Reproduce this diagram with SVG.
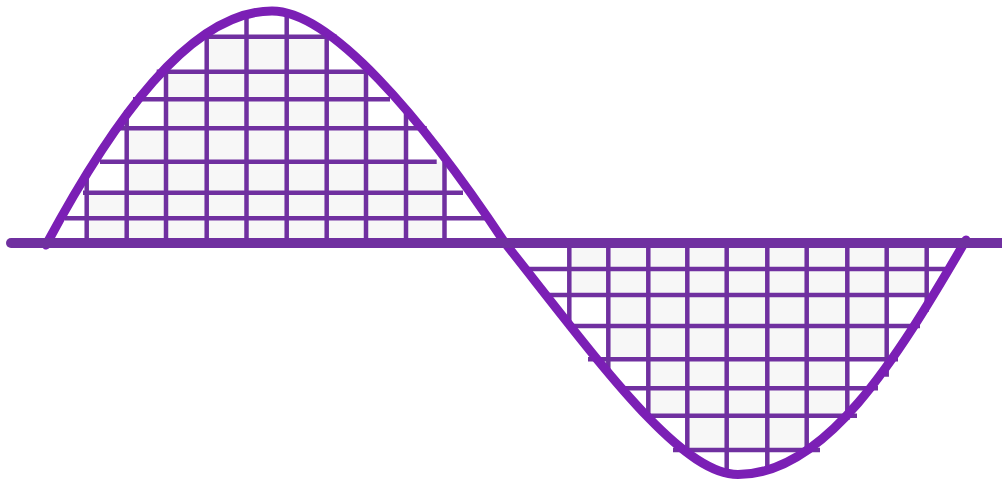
<svg xmlns="http://www.w3.org/2000/svg" width="1002" height="483" viewBox="0 0 1002 483">
  <style>
    .cell { fill: #f7f7f7; }
    .grid line { stroke: #7030a0; stroke-width: 4.5; }
    .axis { stroke: #7030a0; stroke-width: 10; stroke-linecap: round; }
    .wave { fill: none; stroke: #7b1fb5; stroke-width: 9; stroke-linecap: round; }
  </style>
  <rect width="1002" height="483" fill="#ffffff"/>
  <g id="fill-upper">
    <rect class="cell" x="86.7" y="192.7" width="357.8" height="50.3"/>
    <rect class="cell" x="126.7" y="161.7" width="317.8" height="31"/>
    <rect class="cell" x="126.7" y="128.3" width="279.3" height="33.4"/>
    <rect class="cell" x="166" y="71.7" width="200" height="56.6"/>
    <rect class="cell" x="206.7" y="36.7" width="120" height="35"/>
  </g>
  <g id="fill-lower">
    <rect class="cell" x="569.3" y="243" width="357.4" height="52"/>
    <rect class="cell" x="608.3" y="295" width="278.4" height="64.3"/>
    <rect class="cell" x="648.3" y="359.3" width="199" height="56.4"/>
    <rect class="cell" x="687.3" y="415.7" width="119.4" height="34.3"/>
  </g>
  <g id="grid-upper" class="grid">
    <line x1="86.7" y1="175" x2="86.7" y2="243"/>
    <line x1="126.7" y1="110" x2="126.7" y2="243"/>
    <line x1="166" y1="66.7" x2="166" y2="243"/>
    <line x1="206.7" y1="31.7" x2="206.7" y2="243"/>
    <line x1="246.5" y1="15" x2="246.5" y2="243"/>
    <line x1="286.7" y1="15" x2="286.7" y2="243"/>
    <line x1="326.7" y1="31.7" x2="326.7" y2="243"/>
    <line x1="366" y1="66.7" x2="366" y2="243"/>
    <line x1="406" y1="110" x2="406" y2="243"/>
    <line x1="444.5" y1="161.7" x2="444.5" y2="243"/>
    <line x1="200" y1="36.7" x2="336.7" y2="36.7"/>
    <line x1="156.7" y1="71.7" x2="370" y2="71.7"/>
    <line x1="133" y1="99.3" x2="390" y2="99.3"/>
    <line x1="113" y1="128.3" x2="426.7" y2="128.3"/>
    <line x1="100" y1="161.7" x2="436.7" y2="161.7"/>
    <line x1="83" y1="192.7" x2="463" y2="192.7"/>
    <line x1="65" y1="218.3" x2="488" y2="218.3"/>
  </g>
  <g id="grid-lower" class="grid">
    <line x1="569.3" y1="243" x2="569.3" y2="326.7"/>
    <line x1="608.3" y1="243" x2="608.3" y2="376.7"/>
    <line x1="648.3" y1="243" x2="648.3" y2="420"/>
    <line x1="687.3" y1="243" x2="687.3" y2="453"/>
    <line x1="726.7" y1="243" x2="726.7" y2="471.7"/>
    <line x1="767.3" y1="243" x2="767.3" y2="471.7"/>
    <line x1="806.7" y1="243" x2="806.7" y2="453"/>
    <line x1="847.3" y1="243" x2="847.3" y2="420"/>
    <line x1="886.7" y1="243" x2="886.7" y2="376.7"/>
    <line x1="926.7" y1="243" x2="926.7" y2="311.7"/>
    <line x1="525" y1="269" x2="945" y2="269"/>
    <line x1="546.7" y1="295" x2="926.7" y2="295"/>
    <line x1="566.7" y1="326" x2="920" y2="326"/>
    <line x1="588" y1="359.3" x2="898" y2="359.3"/>
    <line x1="618" y1="388.3" x2="878" y2="388.3"/>
    <line x1="643" y1="415.7" x2="857" y2="415.7"/>
    <line x1="673" y1="450" x2="820" y2="450"/>
  </g>
  <g id="wave">
    <path class="wave" d="M46,245 C112,122 190,11 272,11 C330,11 420,115 505,243 C600,363 680,474.5 738,474.5 C825,474.5 895,362 966,240"/>
  </g>
  <g id="axis">
    <line class="axis" x1="11" y1="243" x2="1007" y2="243"/>
  </g>
</svg>
